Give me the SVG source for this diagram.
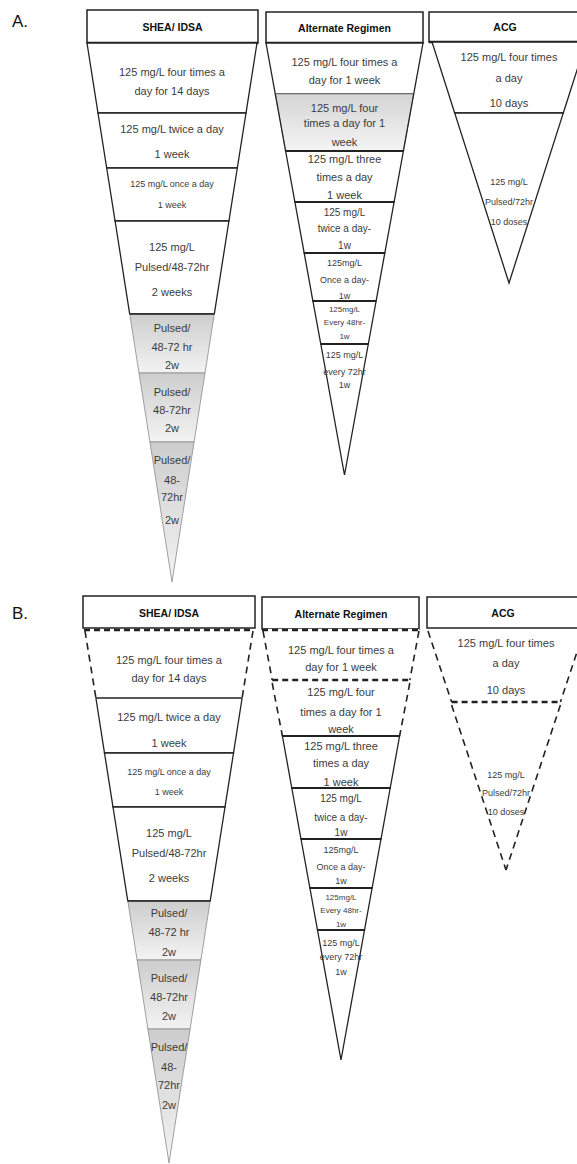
<svg xmlns="http://www.w3.org/2000/svg" width="577" height="1164" viewBox="0 0 577 1164">
<style>
.hdr{fill:#fff;stroke:#222;stroke-width:1.5}
.hb{stroke:#222;stroke-width:2.6}
.seg{fill:#fff;stroke:#222;stroke-width:1.3;stroke-linejoin:miter}
.segw{fill:#fff;stroke:none}
.shade{stroke:#8a8a8a;stroke-width:0.8}
.dv{stroke:#222;stroke-width:2}
.dash{fill:none;stroke:#222;stroke-width:1.6;stroke-dasharray:7 5}
.dashh{fill:none;stroke:#222;stroke-width:2.4;stroke-dasharray:6 4}
.sol{fill:none;stroke:#222;stroke-width:1.3}
text{font-family:"Liberation Sans",Arial,sans-serif;text-anchor:middle;fill:#3c3c3c;font-size:11px}
.h{font-weight:bold;font-size:10.5px;fill:#111}
.s10{font-size:10px}
.s9{font-size:9px}
.s8{font-size:8px}
.lbl{font-size:17px;fill:#111;text-anchor:start}
</style>
<defs>
<linearGradient id="g1" x1="0" y1="0" x2="0" y2="1"><stop offset="0" stop-color="#cdcdcd"/><stop offset="1" stop-color="#f3f3f3"/></linearGradient>
<linearGradient id="g2" x1="0" y1="0" x2="0" y2="1"><stop offset="0" stop-color="#d4d4d4"/><stop offset="1" stop-color="#f5f5f5"/></linearGradient>
</defs>
<rect width="577" height="1164" fill="#fff"/>
<g id="labels">
<text class="lbl" x="12" y="27">A.</text>
<text class="lbl" x="12" y="619">B.</text>
</g>
<g id="connectors"/>

<!-- ===== Panel A: SHEA/IDSA ===== -->
<g id="A-shea">
<g id="A-shea-hdr"><rect class="hdr" x="87" y="10" width="171" height="33"/><line class="hb" x1="87" y1="43" x2="258" y2="43"/><text class="h" x="172.5" y="30.5">SHEA/ IDSA</text></g>
<g id="A-shea-1"><polygon class="seg" points="87,43 257,43 246,113 98,113"/><text x="172" y="76">125 mg/L four times a</text><text x="172" y="95">day for 14 days</text></g>
<g id="A-shea-2"><polygon class="seg" points="98,113 246,113 237.3,168 106.7,168"/><text x="172" y="133">125 mg/L twice a day</text><text x="172" y="158">1 week</text></g>
<g id="A-shea-3"><polygon class="seg" points="106.7,168 237.3,168 228.9,221 115.1,221"/><text class="s9" x="172" y="187">125 mg/L once  a day</text><text class="s9" x="172" y="208">1 week</text></g>
<g id="A-shea-4"><polygon class="seg" points="115.1,221 228.9,221 214.3,314 129.7,314"/><text x="172" y="251">125 mg/L</text><text x="172" y="271">Pulsed/48-72hr</text><text x="172" y="296">2 weeks</text></g>
<g id="A-shea-5"><polygon class="shade" fill="url(#g1)" points="129.7,314 214.3,314 205,373 139,373"/><text x="172" y="332">Pulsed/</text><text x="172" y="351">48-72 hr</text><text x="172" y="369">2w</text></g>
<g id="A-shea-6"><polygon class="shade" fill="url(#g1)" points="139,373 205,373 194.1,442 149.9,442"/><text x="172" y="396">Pulsed/</text><text x="172" y="414">48-72hr</text><text x="172" y="432">2w</text></g>
<g id="A-shea-7"><polygon class="shade" fill="url(#g1)" points="149.9,442 194.1,442 172,582"/><text x="172" y="464">Pulsed/</text><text x="172" y="484">48-</text><text x="172" y="501">72hr</text><text x="172" y="524">2w</text></g>
<line class="sol" x1="129.7" y1="314" x2="214.3" y2="314"/>
</g>

<!-- ===== Panel A: Alternate ===== -->
<g id="A-alt">
<g id="A-alt-hdr"><rect class="hdr" x="266" y="12" width="157" height="31"/><line class="hb" x1="266" y1="43" x2="423" y2="43"/><text class="h" x="344.5" y="31.5">Alternate Regimen</text></g>
<g id="A-alt-1"><polygon class="seg" points="266,43 423,43 413.7,94 275.3,94"/><text x="344.5" y="66">125 mg/L four times a</text><text x="344.5" y="84">day for 1 week</text></g>
<g id="A-alt-2"><polygon class="shade" fill="url(#g2)" points="275.3,94 413.7,94 403.4,151 285.6,151"/><line class="sol" x1="275.3" y1="94" x2="285.6" y2="151"/><line class="sol" x1="413.7" y1="94" x2="403.4" y2="151"/><text x="344.5" y="112">125 mg/L four</text><text x="344.5" y="127">times a day for 1</text><text x="344.5" y="146">week</text></g>
<g id="A-alt-3"><polygon class="seg" points="285.6,151 403.4,151 394.1,202 294.9,202"/><text x="344.5" y="163">125 mg/L three</text><text x="344.5" y="181">times a day</text><text x="344.5" y="199">1 week</text></g>
<g id="A-alt-4"><polygon class="seg" points="294.9,202 394.1,202 384.8,253 304.2,253"/><text class="s10" x="344.5" y="215.5">125 mg/L</text><text class="s10" x="344.5" y="231.5">twice a day-</text><text class="s10" x="344.5" y="248.5">1w</text></g>
<g id="A-alt-5"><polygon class="seg" points="304.2,253 384.8,253 376.1,301 312.9,301"/><text class="s9" x="344.5" y="266">125mg/L</text><text class="s9" x="344.5" y="283">Once a day-</text><text class="s9" x="344.5" y="299">1w</text></g>
<g id="A-alt-6"><polygon class="seg" points="312.9,301 376.1,301 368.3,344 320.8,344"/><text class="s8" x="344.5" y="312">125mg/L</text><text class="s8" x="344.5" y="325">Every 48hr-</text><text class="s8" x="344.5" y="339">1w</text></g>
<g id="A-alt-7"><polygon class="seg" points="320.8,344 368.3,344 344.5,475"/><text class="s9" x="344.5" y="358">125 mg/L</text><text class="s9" x="344.5" y="375">every 72hr</text><text class="s9" x="344.5" y="388">1w</text></g>
<line class="dv" x1="285.6" y1="151" x2="403.4" y2="151"/>
<line class="dv" x1="294.9" y1="202" x2="394.1" y2="202"/>
<line class="dv" x1="304.2" y1="253" x2="384.8" y2="253"/>
<line class="dv" x1="312.9" y1="301" x2="376.1" y2="301"/>
<line class="dv" x1="320.8" y1="344" x2="368.3" y2="344"/>
</g>

<!-- ===== Panel A: ACG ===== -->
<g id="A-acg">
<g id="A-acg-hdr"><rect class="hdr" x="429" y="12" width="160" height="30"/><line class="hb" x1="429" y1="42" x2="589" y2="42"/><text class="h" x="505" y="31">ACG</text></g>
<g id="A-acg-1"><polygon class="seg" points="432,42 586,42 563.3,113 454.7,113"/><text x="509" y="61">125 mg/L four times</text><text x="509" y="82">a day</text><text x="509" y="107">10 days</text></g>
<g id="A-acg-2"><polygon class="seg" points="454.7,113 563.3,113 509,283"/><text class="s9" x="509" y="185">125 mg/L</text><text class="s9" x="509" y="205">Pulsed/72hr</text><text class="s9" x="509" y="225">10 doses</text></g>
</g>

<!-- ===== Panel B: SHEA/IDSA ===== -->
<g id="B-shea">
<g id="B-shea-hdr"><rect class="hdr" x="83" y="596" width="172" height="32"/><text class="h" x="169" y="617">SHEA/ IDSA</text></g>
<g id="B-shea-1"><polygon class="segw" points="85,629 253,629 242.1,698 95.9,698"/><line class="dashh" x1="84" y1="630" x2="254" y2="630"/><line class="dash" x1="85" y1="631" x2="95.9" y2="698"/><line class="dash" x1="253" y1="631" x2="242.1" y2="698"/><text x="169" y="664">125 mg/L four times a</text><text x="169" y="682">day for 14 days</text></g>
<g id="B-shea-2"><polygon class="seg" points="95.9,698 242.1,698 233.5,753 104.5,753"/><text x="169" y="721">125 mg/L twice a day</text><text x="169" y="747">1 week</text></g>
<g id="B-shea-3"><polygon class="seg" points="104.5,753 233.5,753 225,807 113,807"/><text class="s9" x="169" y="775">125 mg/L once  a day</text><text class="s9" x="169" y="795">1 week</text></g>
<g id="B-shea-4"><polygon class="seg" points="113,807 225,807 210.2,901 127.8,901"/><text x="169" y="837">125 mg/L</text><text x="169" y="857">Pulsed/48-72hr</text><text x="169" y="882">2 weeks</text></g>
<g id="B-shea-5"><polygon class="shade" fill="url(#g1)" points="127.8,901 210.2,901 200.9,960 137.1,960"/><text x="169" y="917">Pulsed/</text><text x="169" y="936">48-72 hr</text><text x="169" y="956">2w</text></g>
<g id="B-shea-6"><polygon class="shade" fill="url(#g1)" points="137.1,960 200.9,960 190.1,1029 147.9,1029"/><text x="169" y="982">Pulsed/</text><text x="169" y="1001">48-72hr</text><text x="169" y="1020">2w</text></g>
<g id="B-shea-7"><polygon class="shade" fill="url(#g1)" points="147.9,1029 190.1,1029 169,1163"/><text x="169" y="1051">Pulsed/</text><text x="169" y="1071">48-</text><text x="169" y="1089">72hr</text><text x="169" y="1109">2w</text></g>
<line class="sol" x1="127.8" y1="901" x2="210.2" y2="901"/>
</g>

<!-- ===== Panel B: Alternate ===== -->
<g id="B-alt">
<g id="B-alt-hdr"><rect class="hdr" x="262" y="597" width="157" height="32"/><text class="h" x="341" y="618">Alternate Regimen</text></g>
<g id="B-alt-1"><polygon class="segw" points="263,629 419,629 409.8,680 272.2,680"/><line class="dashh" x1="262" y1="630" x2="420" y2="630"/><line class="dash" x1="263" y1="631" x2="272.2" y2="680"/><line class="dash" x1="419" y1="631" x2="409.8" y2="680"/><text x="341" y="654">125 mg/L four times a</text><text x="341" y="671">day for 1 week</text></g>
<g id="B-alt-2"><polygon class="segw" points="272.2,680 409.8,680 399.6,736 282.4,736"/><line class="dashh" x1="272.2" y1="680" x2="409.8" y2="680"/><line class="dash" x1="272.2" y1="683" x2="282.4" y2="736"/><line class="dash" x1="409.8" y1="683" x2="399.6" y2="736"/><text x="341" y="696">125 mg/L four</text><text x="341" y="716">times a day for 1</text><text x="341" y="733">week</text></g>
<g id="B-alt-3"><polygon class="seg" points="282.4,736 399.6,736 390.2,788 291.8,788"/><text x="341" y="750">125 mg/L three</text><text x="341" y="767">times a day</text><text x="341" y="786">1 week</text></g>
<g id="B-alt-4"><polygon class="seg" points="291.8,788 390.2,788 381,839 301,839"/><text class="s10" x="341" y="801.5">125 mg/L</text><text class="s10" x="341" y="820.5">twice a day-</text><text class="s10" x="341" y="835.5">1w</text></g>
<g id="B-alt-5"><polygon class="seg" points="301,839 381,839 372.1,888 309.9,888"/><text class="s9" x="341" y="853">125mg/L</text><text class="s9" x="341" y="870">Once a day-</text><text class="s9" x="341" y="884">1w</text></g>
<g id="B-alt-6"><polygon class="seg" points="309.9,888 372.1,888 364.5,930 317.5,930"/><text class="s8" x="341" y="900">125mg/L</text><text class="s8" x="341" y="913">Every 48hr-</text><text class="s8" x="341" y="927">1w</text></g>
<g id="B-alt-7"><polygon class="seg" points="317.5,930 364.5,930 341,1060"/><text class="s9" x="341" y="946">125 mg/L</text><text class="s9" x="341" y="960">every 72hr</text><text class="s9" x="341" y="975">1w</text></g>
<line class="dv" x1="282.4" y1="736" x2="399.6" y2="736"/>
<line class="dv" x1="291.8" y1="788" x2="390.2" y2="788"/>
<line class="dv" x1="301" y1="839" x2="381" y2="839"/>
<line class="dv" x1="309.9" y1="888" x2="372.1" y2="888"/>
<line class="dv" x1="317.5" y1="930" x2="364.5" y2="930"/>
</g>

<!-- ===== Panel B: ACG ===== -->
<g id="B-acg">
<g id="B-acg-hdr"><rect class="hdr" x="427" y="597" width="160" height="31"/><text class="h" x="503" y="617">ACG</text></g>
<g id="B-acg-1"><line class="dash" x1="428" y1="631" x2="451.6" y2="702"/><line class="dash" x1="584" y1="631" x2="560.4" y2="702"/><line class="dashh" x1="451.6" y1="702" x2="560.4" y2="702"/><text x="506" y="647">125 mg/L four times</text><text x="506" y="667">a day</text><text x="506" y="694">10 days</text></g>
<g id="B-acg-2"><line class="dash" x1="451.6" y1="705" x2="506" y2="870"/><line class="dash" x1="560.4" y1="705" x2="506" y2="870"/><text class="s9" x="506" y="778">125 mg/L</text><text class="s9" x="506" y="796">Pulsed/72hr</text><text class="s9" x="506" y="815">10 doses</text></g>
</g>
</svg>
